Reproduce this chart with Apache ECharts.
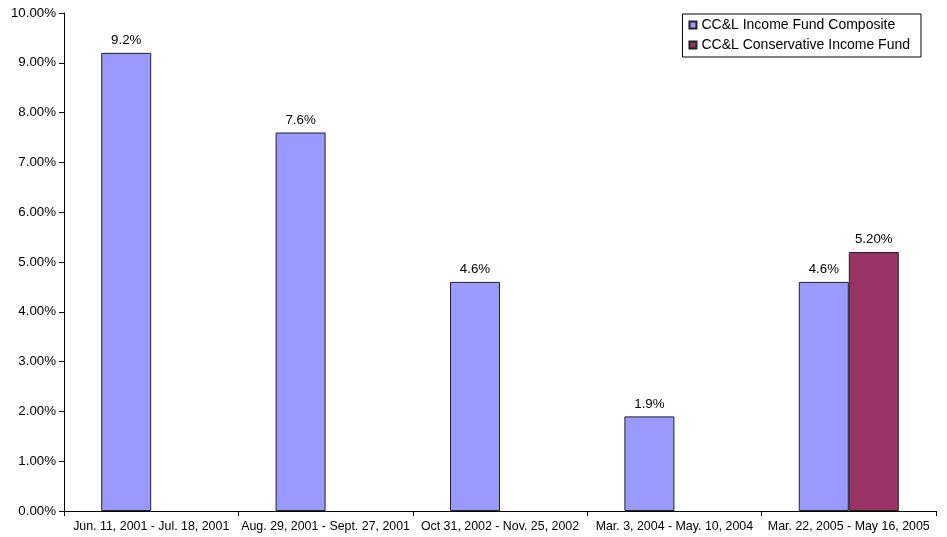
<!DOCTYPE html>
<html>
<head>
<meta charset="utf-8">
<script src="https://cdn.jsdelivr.net/npm/echarts@6/dist/echarts.min.js"></script>
<style>html,body{margin:0;padding:0;background:#fff}#c{width:947px;height:537px}</style>
</head>
<body>
<div id="c"></div>
<script>
const categories = [
  "Jun. 11, 2001 - Jul. 18, 2001",
  "Aug. 29, 2001 - Sept. 27, 2001",
  "Oct 31, 2002 - Nov. 25, 2002",
  "Mar. 3, 2004 - May. 10, 2004",
  "Mar. 22, 2005 - May 16, 2005"
];
const seriesNames = ["CC&L Income Fund Composite", "CC&L Conservative Income Fund"];
const incomeComposite = [9.2, 7.6, 4.6, 1.9, 4.6];
const conservativeIncome = [null, null, null, null, 5.2];
const yTicks = {min: 0, max: 10, interval: 1};

const font = "'Liberation Sans', Arial, sans-serif";
const chart = echarts.init(document.getElementById('c'));
chart.setOption({
  animation: false,
  backgroundColor: '#fff',
  grid: {left: 64, right: 11, top: 13, bottom: 26, containLabel: false},
  legend: {
    orient: 'vertical',
    right: 26, top: 14,
    icon: 'rect',
    itemWidth: 7, itemHeight: 7,
    itemGap: 4,
    padding: [3, 11, 4, 6],
    borderColor: '#000', borderWidth: 1,
    textStyle: {fontFamily: font, fontSize: 14, color: '#000', lineHeight: 16},
    data: seriesNames
  },
  xAxis: {
    type: 'category',
    data: categories,
    axisLine: {lineStyle: {color: '#000', width: 1}},
    axisTick: {show: true, alignWithLabel: false, length: 5, lineStyle: {color: '#000'}},
    axisLabel: {fontFamily: font, fontSize: 12.4, color: '#000', margin: 10, interval: 0}
  },
  yAxis: {
    type: 'value',
    min: yTicks.min, max: yTicks.max, interval: yTicks.interval,
    axisLine: {show: true, lineStyle: {color: '#000', width: 1}},
    axisTick: {show: true, length: 5, lineStyle: {color: '#000'}},
    splitLine: {show: false},
    axisLabel: {fontFamily: font, fontSize: 13.3, color: '#000', margin: 8,
      formatter: v => v.toFixed(2) + '%'}
  },
  series: [
    {
      name: seriesNames[0], type: 'bar', data: incomeComposite,
      barWidth: 50, barGap: '0%',
      itemStyle: {color: '#9999FF', borderColor: '#222', borderWidth: 1},
      label: {show: true, position: 'top', distance: 6, fontFamily: font, fontSize: 13.3, color: '#000',
        formatter: p => p.value.toFixed(1) + '%'}
    },
    {
      name: seriesNames[1], type: 'bar', data: conservativeIncome,
      barWidth: 50, barGap: '0%',
      itemStyle: {color: '#993366', borderColor: '#222', borderWidth: 1},
      label: {show: true, position: 'top', distance: 6, fontFamily: font, fontSize: 13.3, color: '#000',
        formatter: p => p.value == null ? '' : p.value.toFixed(2) + '%'}
    }
  ]
});
</script>
</body>
</html>
